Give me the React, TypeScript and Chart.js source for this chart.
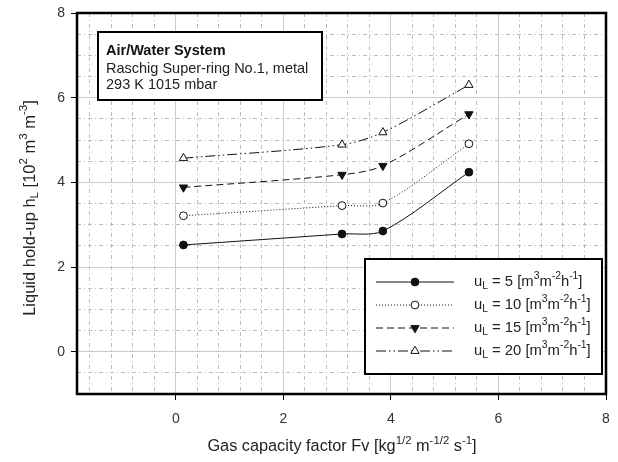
import React, { useEffect, useRef } from 'react';
import { Chart, registerables } from 'chart.js';

Chart.register(...registerables);

// ---- data ----
const fvValues = [0.14, 3.09, 3.85, 5.45];
const holdup5 = [2.52, 2.78, 2.85, 4.24];
const holdup10 = [3.21, 3.45, 3.51, 4.91];
const holdup15 = [3.88, 4.18, 4.39, 5.61];
const holdup20 = [4.57, 4.89, 5.18, 6.3];
const liquidLoads = [5, 10, 15, 20];
const xMajorTicks = [0, 2, 4, 6, 8];
const yMajorTicks = [0, 2, 4, 6, 8];
const infoLines = ['Air/Water System', 'Raschig Super-ring No.1, metal', '293 K 1015 mbar'];

const FONT = '"Liberation Sans", Arial, sans-serif';
const INK = '#111';

type Seg = { t: string; k?: 'sup' | 'sub' };

function segFont(size: number, k?: string, weight = 'normal') {
  const s = k ? size * 0.7 : size;
  return `${weight} ${s}px ${FONT}`;
}
function richWidth(ctx: CanvasRenderingContext2D, segs: Seg[], size: number, weight = 'normal') {
  let w = 0;
  for (const s of segs) {
    ctx.font = segFont(size, s.k, weight);
    w += ctx.measureText(s.t).width;
  }
  return w;
}
function drawRich(
  ctx: CanvasRenderingContext2D,
  segs: Seg[],
  x: number,
  y: number,
  size: number,
  align: 'left' | 'center',
  color = '#222',
  weight = 'normal'
) {
  const w = richWidth(ctx, segs, size, weight);
  let cx = align === 'center' ? x - w / 2 : x;
  ctx.fillStyle = color;
  ctx.textBaseline = 'middle';
  ctx.textAlign = 'left';
  for (const s of segs) {
    ctx.font = segFont(size, s.k, weight);
    const dy = s.k === 'sup' ? -size * 0.38 : s.k === 'sub' ? size * 0.28 : 0;
    ctx.fillText(s.t, cx, y + dy);
    cx += ctx.measureText(s.t).width;
  }
}

const xTitle: Seg[] = [
  { t: 'Gas capacity factor Fv [kg' },
  { t: '1/2', k: 'sup' },
  { t: ' m' },
  { t: '-1/2', k: 'sup' },
  { t: ' s' },
  { t: '-1', k: 'sup' },
  { t: ']' },
];
const yTitle: Seg[] = [
  { t: 'Liquid hold-up h' },
  { t: 'L', k: 'sub' },
  { t: ' [10' },
  { t: '2', k: 'sup' },
  { t: ' m' },
  { t: '3', k: 'sup' },
  { t: ' m' },
  { t: '-3', k: 'sup' },
  { t: ']' },
];
function legendSegs(load: number): Seg[] {
  return [
    { t: 'u' },
    { t: 'L', k: 'sub' },
    { t: ` = ${load} [m` },
    { t: '3', k: 'sup' },
    { t: 'm' },
    { t: '-2', k: 'sup' },
    { t: 'h' },
    { t: '-1', k: 'sup' },
    { t: ']' },
  ];
}

const isMajor = (v: number | undefined, majors: number[]) =>
  v !== undefined && majors.some((m) => Math.abs(m - v) < 1e-6);

const seriesStyles = [
  { dash: [] as number[], style: 'circle', fill: INK, rot: 0, r: 3.9 },
  { dash: [1, 2], style: 'circle', fill: '#fff', rot: 0, r: 3.9 },
  { dash: [7, 4], style: 'triangle', fill: INK, rot: 180, r: 4.8 },
  { dash: [10, 3, 1.5, 3, 1.5, 3], style: 'triangle', fill: '#fff', rot: 0, r: 4.8 },
];
const seriesValues = [holdup5, holdup10, holdup15, holdup20];

function drawMarker(ctx: CanvasRenderingContext2D, style: string, x: number, y: number, r: number, rot: number, fill: string) {
  ctx.save();
  ctx.beginPath();
  if (style === 'circle') {
    ctx.arc(x, y, r, 0, Math.PI * 2);
  } else {
    let rad = (rot * Math.PI) / 180;
    ctx.moveTo(x + Math.sin(rad) * r, y - Math.cos(rad) * r);
    rad += (2 * Math.PI) / 3;
    ctx.lineTo(x + Math.sin(rad) * r, y - Math.cos(rad) * r);
    rad += (2 * Math.PI) / 3;
    ctx.lineTo(x + Math.sin(rad) * r, y - Math.cos(rad) * r);
    ctx.closePath();
  }
  ctx.fillStyle = fill;
  ctx.fill();
  ctx.setLineDash([]);
  ctx.lineWidth = 1;
  ctx.strokeStyle = INK;
  ctx.stroke();
  ctx.restore();
}

const decorPlugin = {
  id: 'decor',
  afterDraw(chart: any) {
    const ctx: CanvasRenderingContext2D = chart.ctx;
    const a = chart.chartArea;
    ctx.save();
    // plot frame
    ctx.setLineDash([]);
    ctx.strokeStyle = '#000';
    ctx.lineWidth = 2.5;
    ctx.strokeRect(a.left, a.top, a.right - a.left, a.bottom - a.top);

    // info box
    const ib = { x: a.left + 21, y: a.top + 19, w: 224, h: 68 };
    ctx.fillStyle = '#fff';
    ctx.fillRect(ib.x, ib.y, ib.w, ib.h);
    ctx.lineWidth = 2;
    ctx.strokeStyle = '#000';
    ctx.strokeRect(ib.x, ib.y, ib.w, ib.h);
    drawRich(ctx, [{ t: infoLines[0] }], ib.x + 8, ib.y + 19, 14.5, 'left', '#111', 'bold');
    drawRich(ctx, [{ t: infoLines[1] }], ib.x + 8, ib.y + 36.5, 14.5, 'left', '#222');
    drawRich(ctx, [{ t: infoLines[2] }], ib.x + 8, ib.y + 53, 14.5, 'left', '#222');

    // legend box
    const lb = { x: a.right - 241, y: a.bottom - 135, w: 237, h: 115 };
    ctx.fillStyle = '#fff';
    ctx.fillRect(lb.x, lb.y, lb.w, lb.h);
    ctx.lineWidth = 2;
    ctx.strokeStyle = '#000';
    ctx.strokeRect(lb.x, lb.y, lb.w, lb.h);
    liquidLoads.forEach((load, i) => {
      const st = seriesStyles[i];
      const y = lb.y + 23 + i * 23;
      ctx.save();
      ctx.beginPath();
      ctx.setLineDash(st.dash);
      ctx.strokeStyle = INK;
      ctx.lineWidth = 1;
      ctx.moveTo(lb.x + 11, y);
      ctx.lineTo(lb.x + 89, y);
      ctx.stroke();
      ctx.restore();
      drawMarker(ctx, st.style, lb.x + 50, y, st.r, st.rot, st.fill);
      drawRich(ctx, legendSegs(load), lb.x + 109, y, 14.8, 'left', '#222');
    });

    // axis titles
    drawRich(ctx, xTitle, 342, 447, 16.3, 'center', '#222');
    ctx.save();
    ctx.translate(30, 208);
    ctx.rotate(-Math.PI / 2);
    drawRich(ctx, yTitle, 0, 0, 16.5, 'center', '#222');
    ctx.restore();
    ctx.restore();
  },
};

export default function App() {
  const ref = useRef<HTMLCanvasElement | null>(null);
  useEffect(() => {
    document.body.style.margin = '0';
    const canvas = ref.current!;
    const datasets = seriesValues.map((vals, i) => {
      const st = seriesStyles[i];
      return {
        label: `uL = ${liquidLoads[i]} [m3m-2h-1]`,
        data: fvValues.map((x, j) => ({ x, y: vals[j] })),
        borderColor: INK,
        backgroundColor: st.fill,
        borderWidth: 1,
        borderDash: st.dash,
        tension: 0.3,
        pointStyle: st.style,
        pointRotation: st.rot,
        pointRadius: st.r,
        pointBorderWidth: 1,
        pointBorderColor: INK,
        pointBackgroundColor: st.fill,
      };
    });
    const gridOpts = (majors: number[]) => ({
      color: (c: any) => (isMajor(c.tick?.value, majors) ? '#cccccc' : '#bdbdbd'),
      lineWidth: 1,
      drawTicks: true,
      tickLength: 6,
      tickWidth: 1,
      tickColor: (c: any) => (isMajor(c.tick?.value, majors) ? '#000' : 'rgba(0,0,0,0)'),
    });
    const chart = new Chart(canvas, {
      type: 'line',
      data: { datasets: datasets as any },
      plugins: [decorPlugin],
      options: {
        animation: false,
        responsive: false,
        devicePixelRatio: 1,
        layout: { padding: { top: 13, right: 12, left: 0, bottom: 0 } },
        plugins: { legend: { display: false }, tooltip: { enabled: false }, title: { display: false } },
        scales: {
          x: {
            type: 'linear',
            min: -1.84,
            max: 8,
            afterBuildTicks: (s: any) => {
              const t = [];
              for (let k = -4; k <= 20; k++) t.push({ value: Math.round(k * 4) / 10 });
              s.ticks = t;
            },
            afterFit: (s: any) => {
              s.height = 68;
              s.paddingLeft = 0;
              s.paddingRight = 0;
            },
            ticks: {
              autoSkip: false,
              maxRotation: 0,
              minRotation: 0,
              padding: 11,
              color: '#333',
              font: { family: FONT, size: 14 },
              callback: (v: any) => (isMajor(Number(v), xMajorTicks) ? String(Math.round(Number(v))) : ''),
            },
            grid: gridOpts(xMajorTicks) as any,
            border: { display: false, dash: (c: any) => (isMajor(c.tick?.value, xMajorTicks) ? [] : [4, 3, 1, 3]) } as any,
          },
          y: {
            type: 'linear',
            min: -1,
            max: 8,
            afterBuildTicks: (s: any) => {
              const t = [];
              for (let k = -2; k <= 16; k++) t.push({ value: k / 2 });
              s.ticks = t;
            },
            afterFit: (s: any) => {
              s.width = 77;
              s.paddingTop = 0;
              s.paddingBottom = 0;
            },
            ticks: {
              autoSkip: false,
              padding: 6,
              color: '#333',
              font: { family: FONT, size: 14 },
              callback: (v: any) => (isMajor(Number(v), yMajorTicks) ? String(Math.round(Number(v))) : ''),
            },
            grid: gridOpts(yMajorTicks) as any,
            border: { display: false, dash: (c: any) => (isMajor(c.tick?.value, yMajorTicks) ? [] : [4, 3, 1, 3]) } as any,
          },
        },
      },
    });
    return () => chart.destroy();
  }, []);
  return (
    <div style={{ width: 618, height: 462, background: '#fff' }}>
      <canvas ref={ref} width={618} height={462} style={{ width: 618, height: 462, display: 'block' }} />
    </div>
  );
}
